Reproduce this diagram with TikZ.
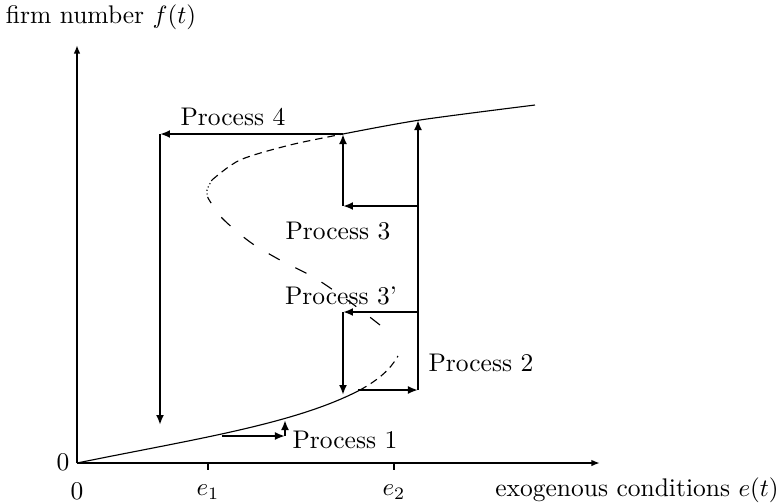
\documentclass[tikz,border=0pt]{standalone}
\usepackage{tikz}
\usetikzlibrary{arrows.meta,positioning,calc}

\begin{document}
\begin{tikzpicture}[x=0.4pt,y=-0.4pt,
    lbl/.style={font=\fontsize{10.2}{12}\selectfont,inner sep=0pt},
    axis/.style={line width=0.8pt,-{Latex[length=3.4pt,width=2.6pt]}},
    arr/.style={line width=1.15pt,-{Latex[length=4pt,width=3.2pt]}},
    crv/.style={line width=0.45pt},
]
\useasboundingbox (0,0) rectangle (776,502);

% axes
\coordinate (o) at (77,463);
\coordinate (xend) at (600,463);
\coordinate (yend) at (77,45);
\draw[axis] (o) -- (xend);
\draw[axis] (o) -- (yend);
\draw[line width=0.8pt] (208,463) -- (208,470);
\draw[line width=0.8pt] (394,463) -- (394,470);

\node[lbl] (ylab) at (101,17) {firm number $f(t)$};
\node[lbl] (xlab) at (637,490) {exogenous conditions $e(t)$};
\node[lbl] (zeroy) at (63,462) {0};
\node[lbl] (zerox) at (77,491) {0};
\node[lbl] (e1) at (208,492) {$e_1$};
\node[lbl] (e2) at (394,492) {$e_2$};

% equilibrium curve
\draw[crv] (77,463) .. controls (195,439) and (295,424) .. (360,390);
\draw[crv,densely dashed] (360,390) .. controls (378,380) and (390,370) .. (398,356);
\draw[crv,dash pattern=on 5pt off 7pt] plot[smooth] coordinates {(380,325) (350,302) (315,278) (280,260) (250,242) (222,218) (208,198)};
\draw[crv,densely dotted] plot[smooth] coordinates {(208,198) (207,190) (212,180)};
\draw[crv,densely dashed] plot[smooth] coordinates {(212,180) (240,160) (290,145) (343,134)};
\draw[crv] plot[smooth] coordinates {(343,134) (420,120) (535,105)};

% process corners
\coordinate (a1) at (222,436);
\coordinate (b1) at (285,436);
\coordinate (c1) at (285,420);
\coordinate (a2) at (358,390);
\coordinate (b2) at (418,390);
\coordinate (c2) at (418,120);
\coordinate (s3) at (418,206);
\coordinate (t3) at (343,206);
\coordinate (u3) at (343,134);
\coordinate (s3p) at (418,312);
\coordinate (t3p) at (343,312);
\coordinate (u3p) at (343,395);
\coordinate (t4) at (160,134);
\coordinate (u4) at (160,425);

\draw[arr] (a1) -- (b1);
\draw[arr] (b1) -- (c1);
\draw[arr] (a2) -- (b2);
\draw[arr] (b2) -- (c2);
\draw[arr] (s3) -- (t3);
\draw[arr] (t3) -- (u3);
\draw[arr] (s3p) -- (t3p);
\draw[arr] (t3p) -- (u3p);
\draw[arr] (u3) -- (t4);
\draw[arr] (t4) -- (u4);

\node[lbl] (p1) at (345,440) {Process 1};
\node[lbl] (p2) at (481,363) {Process 2};
\node[lbl] (p3) at (338,231) {Process 3};
\node[lbl] (p3p) at (341,296) {Process 3'};
\node[lbl] (p4) at (233,117) {Process 4};
\end{tikzpicture}
\end{document}
